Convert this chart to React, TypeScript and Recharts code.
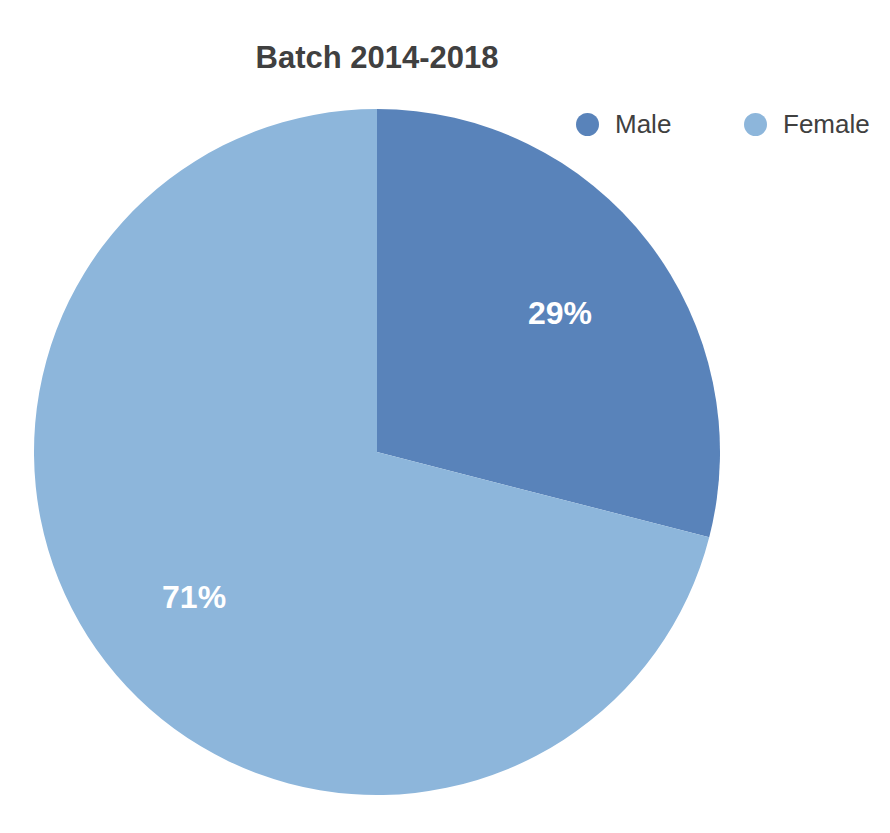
import { Pie, PieChart, Cell } from "recharts";

const categories = ["Male", "Female"];
const shares = [29, 71];
const colors = ["#5983ba", "#8db6db"];

const data = categories.map((name, i) => ({ name, value: shares[i] }));

const RAD = Math.PI / 180;

function renderLabel(props: any) {
  const { cx, cy, midAngle, outerRadius, percent } = props;
  const r = outerRadius * 0.675;
  const x = cx + r * Math.cos(-midAngle * RAD);
  const y = cy + r * Math.sin(-midAngle * RAD) + 3;
  return (
    <text
      x={x}
      y={y}
      fill="#fff"
      textAnchor="middle"
      dominantBaseline="central"
      fontSize={32}
      fontWeight="bold"
    >
      {`${Math.round(percent * 100)}%`}
    </text>
  );
}

export default function App() {
  return (
    <div
      style={{
        position: "absolute",
        left: 0,
        top: 0,
        width: 890,
        height: 833,
        background: "#fff",
        fontFamily: "'Liberation Sans', Arial, sans-serif",
      }}
    >
      <div
        style={{
          position: "absolute",
          left: 177,
          width: 400,
          top: 38,
          textAlign: "center",
          fontSize: 31,
          fontWeight: "bold",
          color: "#404040",
          lineHeight: "40px",
        }}
      >
        Batch 2014-2018
      </div>
      {categories.map((c, i) => (
        <div
          key={c}
          style={{
            position: "absolute",
            left: 576 + i * 168,
            top: 108,
            height: 32,
            display: "flex",
            alignItems: "center",
            fontSize: 26,
            color: "#404040",
          }}
        >
          <span
            style={{
              display: "inline-block",
              width: 23,
              height: 23,
              borderRadius: "50%",
              background: colors[i],
              marginRight: 16,
            }}
          />
          {c}
        </div>
      ))}
      <PieChart
        width={890}
        height={833}
        margin={{ top: 0, right: 0, bottom: 0, left: 0 }}
        style={{ position: "absolute", left: 0, top: 0 }}
      >
        <Pie
          data={data}
          dataKey="value"
          nameKey="name"
          cx={377}
          cy={452}
          outerRadius={343}
          startAngle={90}
          endAngle={-270}
          stroke="none"
          label={renderLabel}
          labelLine={false}
          isAnimationActive={false}
        >
          {data.map((_, i) => (
            <Cell key={i} fill={colors[i]} />
          ))}
        </Pie>
      </PieChart>
    </div>
  );
}
